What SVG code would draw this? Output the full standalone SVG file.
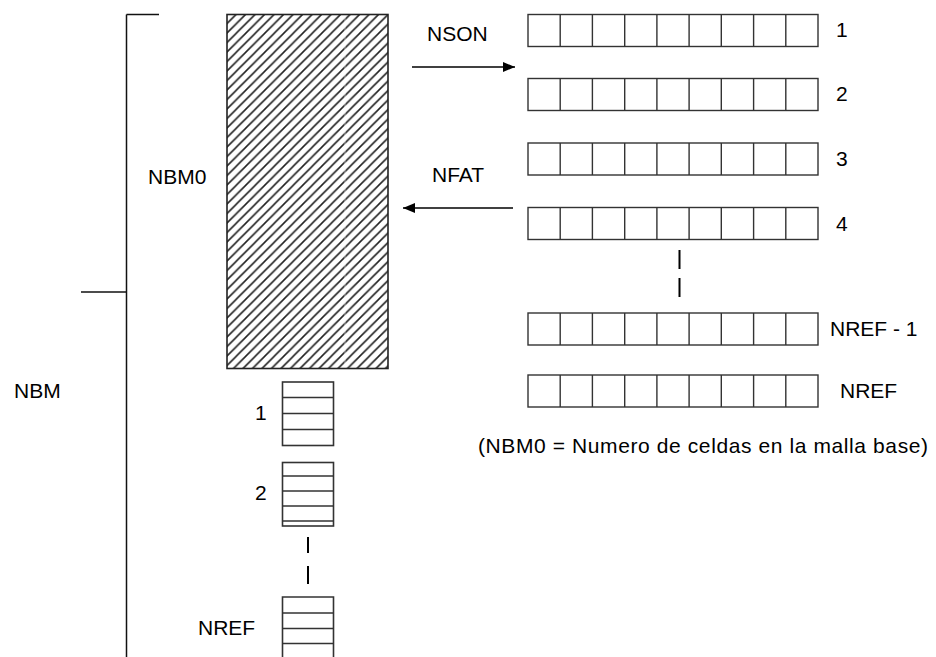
<svg xmlns="http://www.w3.org/2000/svg" xmlns:xlink="http://www.w3.org/1999/xlink" width="936" height="657" viewBox="0 0 936 657">
<style>
text{font-family:"Liberation Sans",Arial,sans-serif;font-size:21px;fill:#000}
.ln{stroke:#111;stroke-width:1.5;fill:none}
.cell{stroke:#333;stroke-width:1.4;fill:#fff}
.cl{stroke:#333;stroke-width:1.4}
.stk{stroke:#333;stroke-width:1.6;fill:#fff}
</style>
<defs>
<pattern id="hatch" patternUnits="userSpaceOnUse" width="9.5" height="9.5" x="227" y="14">
<path d="M0,9.5 L9.5,0 M-1,1 L1,-1 M8.5,10.5 L10.5,8.5" stroke="#222" stroke-width="1.6"/>
</pattern>
<marker id="ah" markerWidth="12" markerHeight="10" refX="12" refY="5" orient="auto" markerUnits="userSpaceOnUse">
<path d="M0,0 L12,5 L0,10 Z" fill="#000"/>
</marker>
<g id="row">
<rect class="cell" x="0" y="0" width="290" height="32"/>
<path class="cl" d="M32.2,0v32M64.4,0v32M96.7,0v32M128.9,0v32M161.1,0v32M193.3,0v32M225.6,0v32M257.8,0v32"/>
</g>
</defs>
<rect width="936" height="657" fill="#fff"/>

<g id="brace">
<path class="ln" d="M126.5,14.5 V657"/>
<path class="ln" d="M126.5,14.5 H159" stroke="#555"/>
<path class="ln" d="M81,292 H126.5"/>
<text x="14" y="398">NBM</text>
</g>

<g id="base-mesh">
<rect x="227" y="14.5" width="161" height="354" fill="url(#hatch)" stroke="#222" stroke-width="1.6"/>
<path d="M345,16V367" stroke="#fff" stroke-opacity="0.5" stroke-width="1"/>
<text x="148" y="184">NBM0</text>
</g>

<g id="stack-1">
<rect class="stk" x="282.5" y="382" width="51" height="63.5"/>
<path class="stk" d="M282.5,397.5H333.5M282.5,413.5H333.5M282.5,429.5H333.5"/>
<text x="255" y="420">1</text>
</g>
<g id="stack-2">
<rect class="stk" x="282.5" y="462.5" width="51" height="63.5"/>
<path class="stk" d="M282.5,476H333.5M282.5,491H333.5M282.5,506H333.5M282.5,521H333.5"/>
<text x="255" y="500">2</text>
</g>
<g id="stack-nref">
<path class="stk" d="M282.5,657V597H333.5V657"/>
<path class="stk" d="M282.5,613H333.5M282.5,628.5H333.5M282.5,643.5H333.5"/>
<text x="198" y="635">NREF</text>
</g>

<g id="row-1"><use xlink:href="#row" x="528" y="14.5"/><text x="836" y="37">1</text></g>
<g id="row-2"><use xlink:href="#row" x="528" y="78.5"/><text x="836" y="101">2</text></g>
<g id="row-3"><use xlink:href="#row" x="528" y="143"/><text x="836" y="166">3</text></g>
<g id="row-4"><use xlink:href="#row" x="528" y="207.5"/><text x="836" y="231">4</text></g>
<g id="row-nref-1"><use xlink:href="#row" x="528" y="313"/><text x="830" y="336">NREF - 1</text></g>
<g id="row-nref"><use xlink:href="#row" x="528" y="375"/><text x="840" y="398">NREF</text></g>

<g id="connectors">
<path d="M412,67 H515" stroke="#000" stroke-width="1.3" marker-end="url(#ah)"/>
<text x="427" y="41">NSON</text>
<path d="M513,208 H403" stroke="#000" stroke-width="1.3" marker-end="url(#ah)"/>
<text x="432" y="182">NFAT</text>
<path d="M308,537V553M308,566V584" stroke="#000" stroke-width="2"/>
<path d="M679.5,250V269M679.5,278V297" stroke="#000" stroke-width="2"/>
</g>

<text x="478" y="453" textLength="450" lengthAdjust="spacing">(NBM0 = Numero de celdas en la malla base)</text>
</svg>
